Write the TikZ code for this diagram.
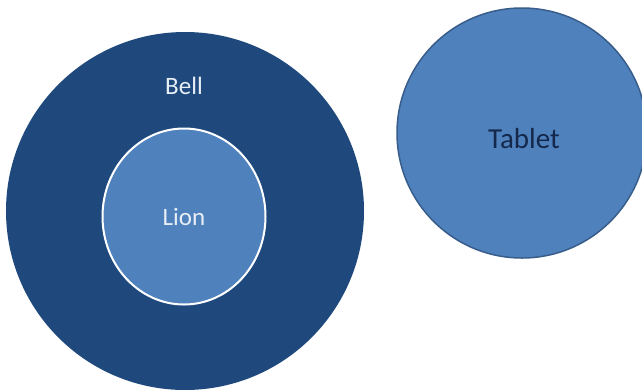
\documentclass[tikz,border=0pt]{standalone}
\usepackage{fontspec}
\setmainfont{Carlito}
\usetikzlibrary{shapes.geometric}
\definecolor{darkblue}{HTML}{1F497D}
\definecolor{midblue}{HTML}{4F81BD}
\definecolor{edgeblue}{HTML}{385D8A}
\definecolor{lighttext}{HTML}{E8EEF6}
\definecolor{navytext}{HTML}{14284B}
\tikzset{
  setcircle/.style={circle, inner sep=0pt, outer sep=0pt},
  lbl/.style={inner sep=0pt, outer sep=0pt}
}
\begin{document}
\begin{tikzpicture}[x=1pt,y=-1pt]
\useasboundingbox[fill=white] (0,0) rectangle (642,389);
\node[setcircle, fill=darkblue, minimum size=358pt] (bell) at (185,211) {};
\node[ellipse, inner sep=0pt, fill=midblue, draw=white, line width=2pt,
      minimum width=163pt, minimum height=176pt] (lion) at (184,216.5) {};
\node[setcircle, fill=midblue, draw=edgeblue, line width=1.5pt, minimum size=250pt] (tablet) at (522,133) {};
\node[lbl, text=lighttext, font=\fontsize{25}{30}\selectfont] (belltext) at (184,86) {Bell};
\node[lbl, text=lighttext, font=\fontsize{25}{30}\selectfont] (liontext) at (184,217) {Lion};
\node[lbl, text=navytext, font=\fontsize{29}{34}\selectfont] (tablettext) at (524,139) {Tablet};
\end{tikzpicture}
\end{document}
